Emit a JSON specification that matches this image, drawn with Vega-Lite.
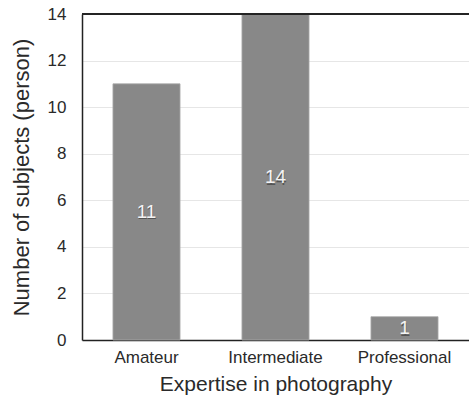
{
  "$schema": "https://vega.github.io/schema/vega-lite/v6.json",
  "width": 387,
  "height": 326,
  "autosize": {"type": "none"},
  "padding": {"left": 82, "top": 14, "right": 0, "bottom": 65},
  "config": {
    "view": {"stroke": null},
    "font": "Liberation Sans",
    "axis": {"labelFont": "Liberation Sans", "titleFont": "Liberation Sans", "titleFontWeight": "normal", "labelColor": "#2a2a2a", "titleColor": "#2a2a2a"}
  },
  "data": {"values": [
    {"level": "Amateur", "count": 11},
    {"level": "Intermediate", "count": 14},
    {"level": "Professional", "count": 1}
  ]},
  "encoding": {
    "x": {"field": "level", "type": "nominal", "sort": null,
      "scale": {"paddingInner": 0.48, "paddingOuter": 0.24},
      "axis": {"title": "Expertise in photography", "labelAngle": 0, "labelFontSize": 17, "titleFontSize": 21, "ticks": false, "labelPadding": 9, "titlePadding": 8, "domainColor": "#222", "domainWidth": 1.5}
    }
  },
  "layer": [
    {"mark": {"type": "bar", "color": "#888888", "stroke": "#aaaaaa", "strokeWidth": 0.8},
      "encoding": {"y": {"field": "count", "type": "quantitative",
        "scale": {"domain": [0, 14], "nice": false},
        "axis": {"title": "Number of subjects (person)", "values": [0,2,4,6,8,10,12,14], "labelFontSize": 17, "titleFontSize": 22, "ticks": false, "labelPadding": 16, "titlePadding": 14, "domainColor": "#222", "domainWidth": 1.5, "gridColor": "#e6e6e6", "grid": true}}}},
    {"mark": {"type": "rule", "color": "#222", "strokeWidth": 1.5}, "encoding": {"y": {"datum": 14, "type": "quantitative", "scale": {"domain": [0, 14], "nice": false}, "axis": null}, "x": null}},
    {"mark": {"type": "text", "fontSize": 19, "color": "#333", "opacity": 0.6, "dy": 1.5, "dx": 0.5, "baseline": "middle"},
      "encoding": {"y": {"field": "count", "type": "quantitative", "scale": {"domain": [0, 28], "nice": false}, "axis": null}, "text": {"field": "count"}}},
    {"mark": {"type": "text", "fontSize": 19, "color": "#f4f4f4", "baseline": "middle"},
      "encoding": {"y": {"field": "count", "type": "quantitative", "scale": {"domain": [0, 28], "nice": false}, "axis": null}, "text": {"field": "count"}}}
  ],
  "resolve": {"scale": {"y": "independent"}}
}
